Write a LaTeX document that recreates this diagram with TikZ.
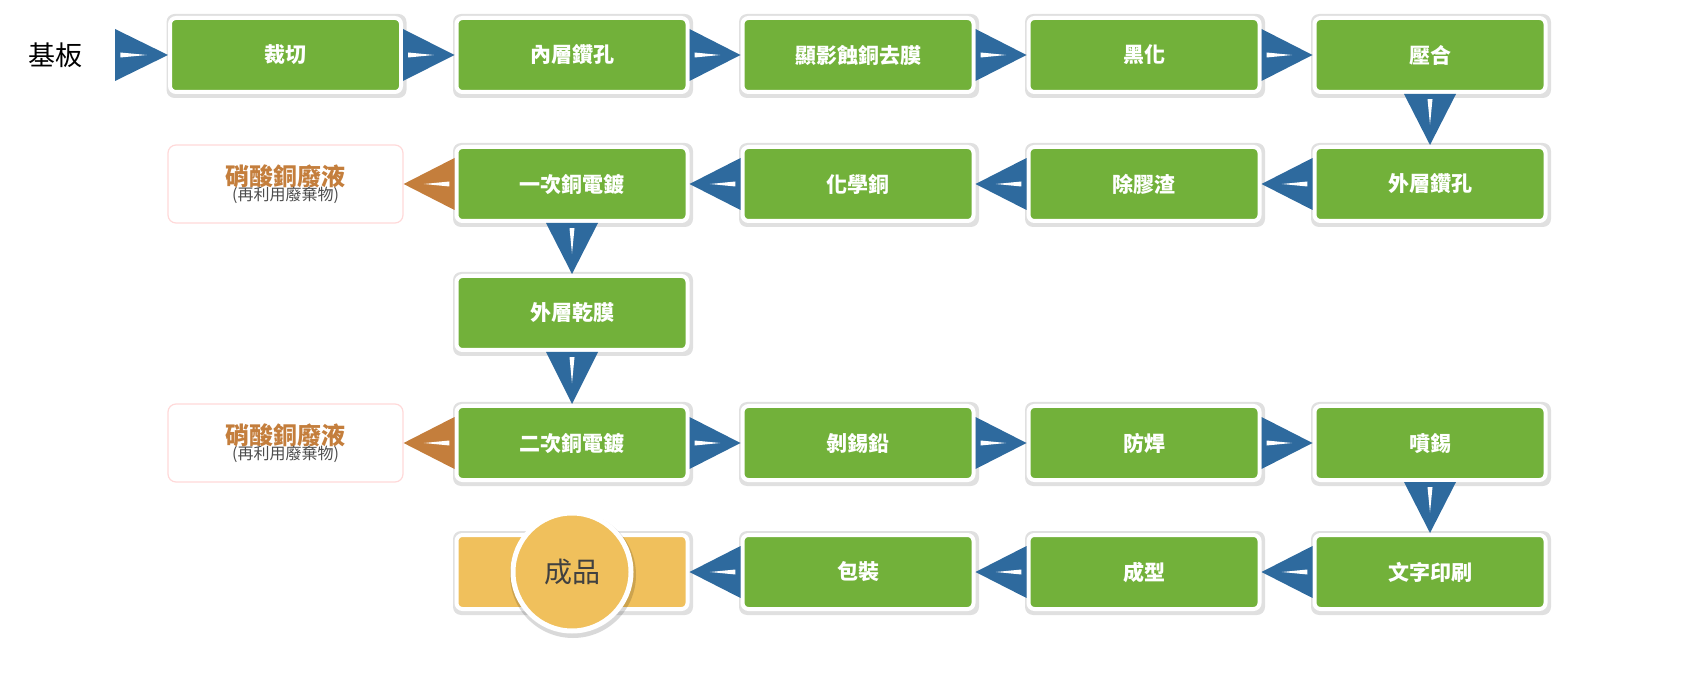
\documentclass[tikz,border=0pt]{standalone}
\usepackage{fontspec}
\setmainfont{Noto Sans CJK TC}
\usetikzlibrary{calc}
\definecolor{grn}{HTML}{72B13A}
\definecolor{blu}{HTML}{2E6A9E}
\definecolor{org}{HTML}{C47E3C}
\definecolor{gld}{HTML}{F0C05C}
\tikzset{
 pstep/.style={draw=white,line width=4pt,fill=grn,rounded corners=6pt,minimum width=231pt,minimum height=74pt,text=white,font=\fontsize{21}{24}\selectfont\bfseries},
 waste/.style={draw=pink!60,line width=1.2pt,fill=white,rounded corners=8pt,minimum width=235pt,minimum height=78pt,align=center},
 shad/.style={fill=black,opacity=0.12,rounded corners=8pt}
}
\newcommand{\tri}[3]{%
 \path (#1) coordinate (S) (#2) coordinate (T);
 \fill[#3] ($(S)!26pt!90:(T)$) -- ($(S)!26pt!-90:(T)$) -- (T) -- cycle;
 \path ($(S)!0.1!(T)$) coordinate (M1) ($(S)!0.6!(T)$) coordinate (M2);
 \fill[white] ($(M1)!2.5pt!90:(T)$) -- ($(M1)!2.5pt!-90:(T)$) -- (M2) -- cycle;}
\begin{document}
\begin{tikzpicture}[x=1pt,y=-1pt]
\useasboundingbox (0,0) rectangle (1700,700);
\foreach \xx/\yy in {285.5/55,572/55,858/55,1144/55,1430/55,572/184,858/184,1144/184,1430/184,572/313,572/443,858/443,1144/443,1430/443,572/572,858/572,1144/572,1430/572}{\fill[shad] (\xx-119,\yy-41) rectangle (\xx+121,\yy+43);}
\node[font=\fontsize{27}{30}\selectfont] (sub) at (55,55) {基板};
\coordinate (start) at (115,55);
\node[pstep] (a1) at (285.5,55) {裁切};
\node[pstep] (a2) at (572,55) {內層鑽孔};
\node[pstep] (a3) at (858,55) {顯影蝕銅去膜};
\node[pstep] (a4) at (1144,55) {黑化};
\node[pstep] (a5) at (1430,55) {壓合};
\node[pstep] (b5) at (1430,184) {外層鑽孔};
\node[pstep] (b4) at (1144,184) {除膠渣};
\node[pstep] (b3) at (858,184) {化學銅};
\node[pstep] (b2) at (572,184) {一次銅電鍍};
\node[waste] (w1) at (285.5,184) {{\color{org}\fontsize{24}{28}\selectfont\bfseries 硝酸銅廢液}\\[-2pt]{\color{black!70}\fontsize{16}{18}\selectfont (再利用廢棄物)}};
\node[pstep] (c2) at (572,313) {外層乾膜};
\node[pstep] (d2) at (572,443) {二次銅電鍍};
\node[waste] (w2) at (285.5,443) {{\color{org}\fontsize{24}{28}\selectfont\bfseries 硝酸銅廢液}\\[-2pt]{\color{black!70}\fontsize{16}{18}\selectfont (再利用廢棄物)}};
\node[pstep] (d3) at (858,443) {剝錫鉛};
\node[pstep] (d4) at (1144,443) {防焊};
\node[pstep] (d5) at (1430,443) {噴錫};
\node[pstep] (e5) at (1430,572) {文字印刷};
\node[pstep] (e4) at (1144,572) {成型};
\node[pstep] (e3) at (858,572) {包裝};
\node[pstep,fill=gld] (e2) at (572,572) {};
\fill[black,opacity=0.15] (573,575) circle (63);
\node[circle,draw=white,line width=5pt,fill=gld,minimum size=118pt,text=black!75,font=\fontsize{28}{30}\selectfont] (fin) at (572,572) {成品};
\tri{start}{a1.west}{blu}
\tri{a1.east}{a2.west}{blu}
\tri{a2.east}{a3.west}{blu}
\tri{a3.east}{a4.west}{blu}
\tri{a4.east}{a5.west}{blu}
\tri{a5.south}{b5.north}{blu}
\tri{b5.west}{b4.east}{blu}
\tri{b4.west}{b3.east}{blu}
\tri{b3.west}{b2.east}{blu}
\tri{b2.west}{w1.east}{org}
\tri{b2.south}{c2.north}{blu}
\tri{c2.south}{d2.north}{blu}
\tri{d2.west}{w2.east}{org}
\tri{d2.east}{d3.west}{blu}
\tri{d3.east}{d4.west}{blu}
\tri{d4.east}{d5.west}{blu}
\tri{d5.south}{e5.north}{blu}
\tri{e5.west}{e4.east}{blu}
\tri{e4.west}{e3.east}{blu}
\tri{e3.west}{e2.east}{blu}
\end{tikzpicture}
\end{document}
